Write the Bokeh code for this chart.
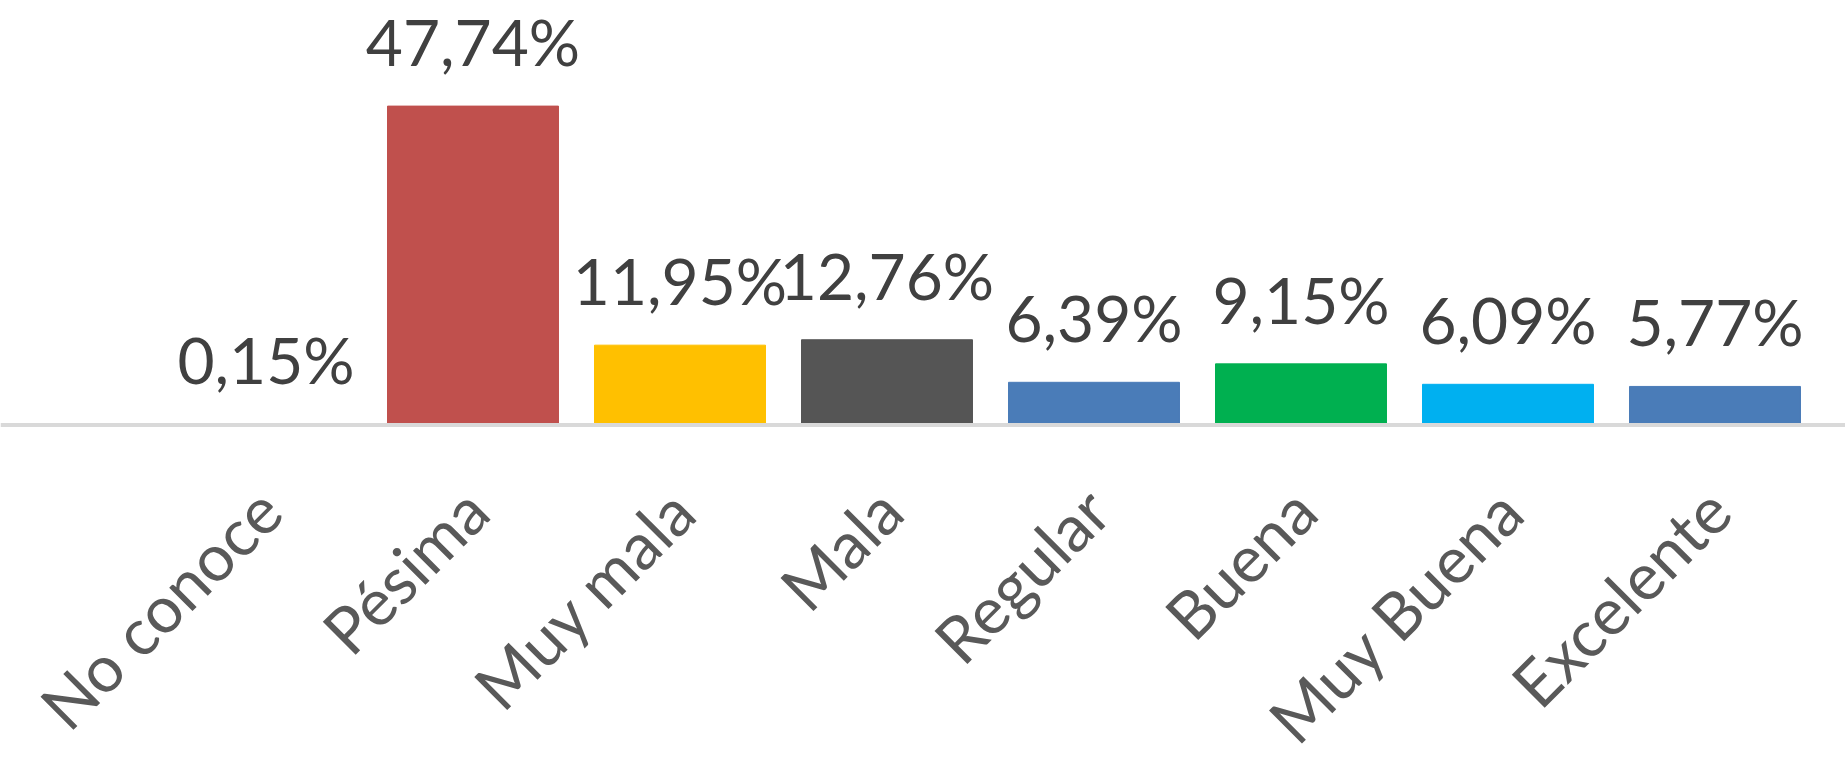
import math
from bokeh.plotting import figure
from bokeh.models import ColumnDataSource, Range1d, LabelSet, Span
from bokeh.core.properties import value
from bokeh.embed import file_html
from bokeh.resources import INLINE

categories = ["No conoce", "Pésima", "Muy mala", "Mala", "Regular", "Buena", "Muy Buena", "Excelente"]
values = [0.15, 47.74, 11.95, 12.76, 6.39, 9.15, 6.09, 5.77]
colors = ["#4F81BD", "#C0504D", "#FFC000", "#555555", "#4A7CB8", "#00B050", "#00B0F0", "#4A7CB8"]
labels = [f"{v:.2f}%".replace(".", ",") for v in values]

# category slots 0.5, 1.5, ... (one unit per category)
slots = [i + 0.5 for i in range(len(categories))]

source = ColumnDataSource(data=dict(x=slots, cat=categories, val=values, color=colors,
                                    label=labels, base=[0] * len(values)))

p = figure(
    x_range=Range1d(-0.7826, 8.1304),
    y_range=Range1d(-49.78, 63.55),
    width=1845, height=757,
    x_axis_location=None, y_axis_location=None,
    output_backend="svg", toolbar_location=None,
    min_border_left=0, min_border_right=0, min_border_top=0, min_border_bottom=0,
)
p.vbar(x="x", top="val", width=0.826, color="color", source=source)

# category axis line at zero
p.add_layout(Span(location=0, dimension="width", line_color="#D9D9D9", line_width=4))

# category labels, rotated 45 degrees
cat_labels = LabelSet(x="x", y="base", text="cat", source=source, angle=math.pi / 4,
                      text_align="right", text_baseline="middle", x_offset=3, y_offset=-74,
                      text_font=value("Lato"), text_font_size="65px", text_color="#595959")
p.add_layout(cat_labels)

lab = LabelSet(x="x", y="val", text="label", source=source,
               text_align="center", text_baseline="alphabetic", y_offset=40,
               text_font=value("Lato"), text_font_size="64px", text_color="#404040")
p.add_layout(lab)

p.xgrid.grid_line_color = None
p.ygrid.grid_line_color = None
p.outline_line_color = None

open("out.html", "w").write(file_html(p, INLINE))
